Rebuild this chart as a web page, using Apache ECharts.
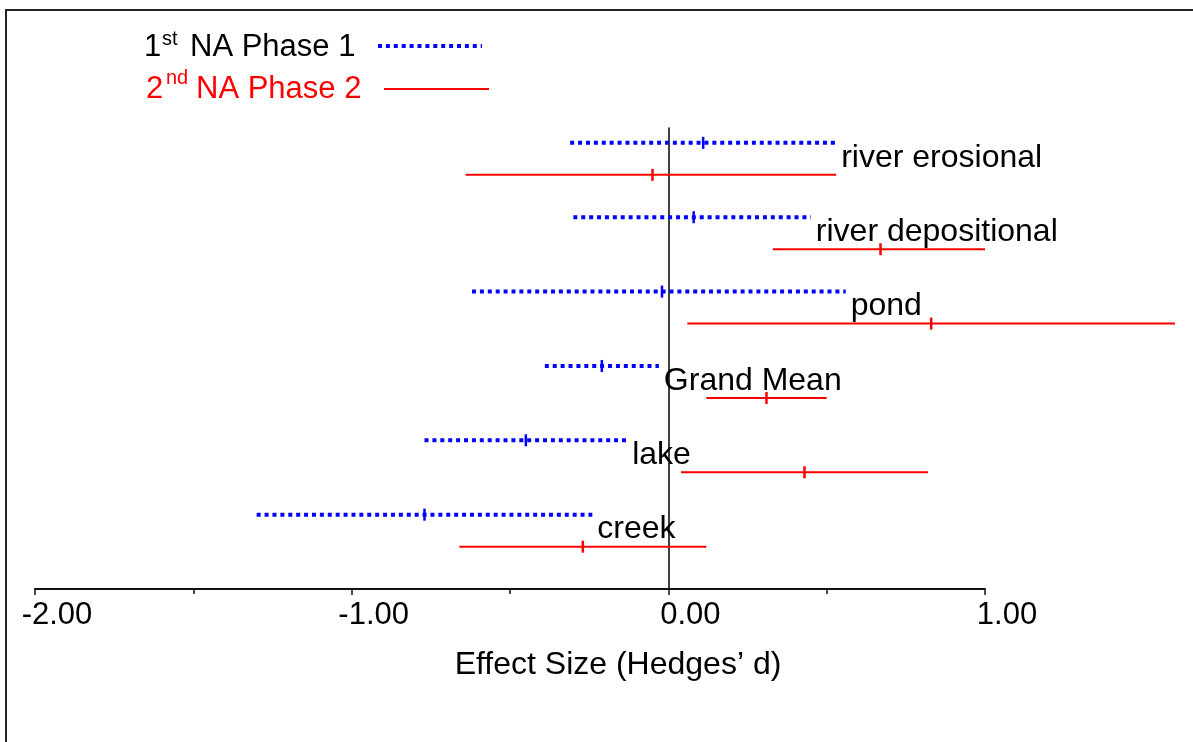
<!DOCTYPE html>
<html>
<head>
<meta charset="utf-8">
<title>Effect Size by Habitat</title>
<script src="https://cdn.jsdelivr.net/npm/echarts@6/dist/echarts.min.js"></script>
<style>
  html, body { margin: 0; padding: 0; background: #ffffff; }
  #chart { width: 1193px; height: 742px; }
</style>
</head>
<body>
<div id="chart"></div>
<script>
// Habitat categories, top to bottom
const categories = ['river erosional', 'river depositional', 'pond', 'Grand Mean', 'lake', 'creek'];

// 1st NA, Phase 1: mean effect size and confidence bounds
const phase1Mean = [0.11, 0.08, -0.02, -0.21, -0.45, -0.77];
const phase1Low  = [-0.31, -0.30, -0.62, -0.39, -0.77, -1.30];
const phase1High = [0.53, 0.45, 0.56, -0.03, -0.13, -0.24];

// 2nd NA, Phase 2: mean effect size and confidence bounds
const phase2Mean = [-0.05, 0.67, 0.83, 0.31, 0.43, -0.27];
const phase2Low  = [-0.64, 0.33, 0.06, 0.12, 0.04, -0.66];
const phase2High = [0.53, 1.00, 1.60, 0.50, 0.82, 0.12];

// Effect-size axis range and labelled ticks
const xMin = -2;
const xMax = 1;
const xTickStep = 1;

const FONT = '"Liberation Sans", Arial, Helvetica, sans-serif';
const BLUE = '#0000ff';
const RED = '#ff0000';

// Row position on the vertical value axis (top row is highest)
const rowOf = i => categories.length - i;

const phase1Data = categories.map((c, i) => [rowOf(i), phase1Low[i], phase1Mean[i], phase1High[i]]);
const phase2Data = categories.map((c, i) => [rowOf(i), phase2Low[i], phase2Mean[i], phase2High[i]]);

// Draws one interval line with a short vertical tick at the mean
function intervalRenderer(color, width, dash, tickH, dy) {
  return function (params, api) {
    const row = api.value(0);
    const pLo = api.coord([api.value(1), row]);
    const pMean = api.coord([api.value(2), row]);
    const pHi = api.coord([api.value(3), row]);
    const y = pLo[1] + dy;
    return {
      type: 'group',
      children: [
        {
          type: 'line',
          shape: { x1: pLo[0], y1: y, x2: pHi[0], y2: y },
          style: { stroke: color, lineWidth: width, lineDash: dash, lineCap: 'butt' }
        },
        {
          type: 'line',
          shape: { x1: pMean[0], y1: y - tickH / 2, x2: pMean[0], y2: y + tickH / 2 },
          style: { stroke: color, lineWidth: 2.5 }
        }
      ]
    };
  };
}

// Category names sit just right of the Phase 1 upper bound
function labelRenderer(params, api) {
  const p = api.coord([api.value(1), api.value(0)]);
  return {
    type: 'text',
    x: p[0] + 5,
    y: p[1] + 15,
    style: {
      text: categories[params.dataIndex],
      fill: '#000',
      font: '32px ' + FONT,
      align: 'left',
      verticalAlign: 'middle'
    }
  };
}

const chart = echarts.init(document.getElementById('chart'));

const legendText = (text, x, y, size, color) => ({
  type: 'text',
  x: x, y: y,
  style: { text: text, fill: color, font: size + 'px ' + FONT, align: 'left', verticalAlign: 'middle' }
});

chart.setOption({
  animation: false,
  backgroundColor: '#ffffff',
  grid: { left: 35, right: 208, top: 128, bottom: 153, containLabel: false, outerBoundsMode: 'none' },
  xAxis: {
    type: 'value',
    min: xMin,
    max: xMax,
    interval: xTickStep,
    axisLine: { show: true, onZero: false, lineStyle: { color: '#111', width: 2 } },
    axisTick: { show: true, length: 6, lineStyle: { color: '#111', width: 1.5 } },
    minorTick: { show: true, splitNumber: 2, length: 5, lineStyle: { color: '#111', width: 1.5 } },
    splitLine: { show: false },
    axisLabel: {
      margin: 11,
      color: '#000',
      fontSize: 31,
      fontFamily: FONT,
      align: 'center',
      padding: [0, 0, 0, 44],
      formatter: v => v.toFixed(2)
    }
  },
  yAxis: {
    type: 'value',
    min: 0,
    max: 6.2,
    axisLine: { show: true, onZero: true, lineStyle: { color: '#000', width: 1.5 } },
    axisTick: { show: false },
    axisLabel: { show: false },
    splitLine: { show: false }
  },
  series: [
    {
      name: '1st NA Phase 1',
      type: 'custom',
      clip: false,
      renderItem: intervalRenderer(BLUE, 4, [4, 3.9], 12, 0),
      encode: { x: [1, 2, 3], y: 0 },
      data: phase1Data,
      z: 3
    },
    {
      name: '2nd NA Phase 2',
      type: 'custom',
      clip: false,
      renderItem: intervalRenderer(RED, 2, null, 12, 32),
      encode: { x: [1, 2, 3], y: 0 },
      data: phase2Data,
      z: 3
    },
    {
      name: 'labels',
      type: 'custom',
      clip: false,
      renderItem: labelRenderer,
      encode: { x: 1, y: 0 },
      data: categories.map((c, i) => [rowOf(i), phase1High[i]]),
      z: 4
    }
  ],
  graphic: [
    // outer frame
    {
      type: 'rect',
      shape: { x: 6, y: 10, width: 1300, height: 900 },
      style: { fill: 'none', stroke: '#222', lineWidth: 2 },
      z: 0
    },
    // legend: Phase 1
    legendText('1', 144, 47.5, 31, '#000'),
    legendText('st', 162, 39, 20, '#000'),
    legendText('NA Phase 1', 190, 47.5, 31, '#000'),
    {
      type: 'line',
      shape: { x1: 378, y1: 46, x2: 482, y2: 46 },
      style: { stroke: BLUE, lineWidth: 4, lineDash: [4, 3.9] }
    },
    // legend: Phase 2
    legendText('2', 146, 89, 31, RED),
    legendText('nd', 166, 78, 20, RED),
    legendText('NA Phase 2', 196, 89, 31, RED),
    {
      type: 'line',
      shape: { x1: 384, y1: 89, x2: 489, y2: 89 },
      style: { stroke: RED, lineWidth: 2 }
    },
    // axis title
    {
      type: 'text',
      x: 618, y: 665,
      style: {
        text: 'Effect Size (Hedges\u2019 d)',
        fill: '#000',
        font: '32px ' + FONT,
        align: 'center',
        verticalAlign: 'middle'
      }
    }
  ]
});
</script>
</body>
</html>
